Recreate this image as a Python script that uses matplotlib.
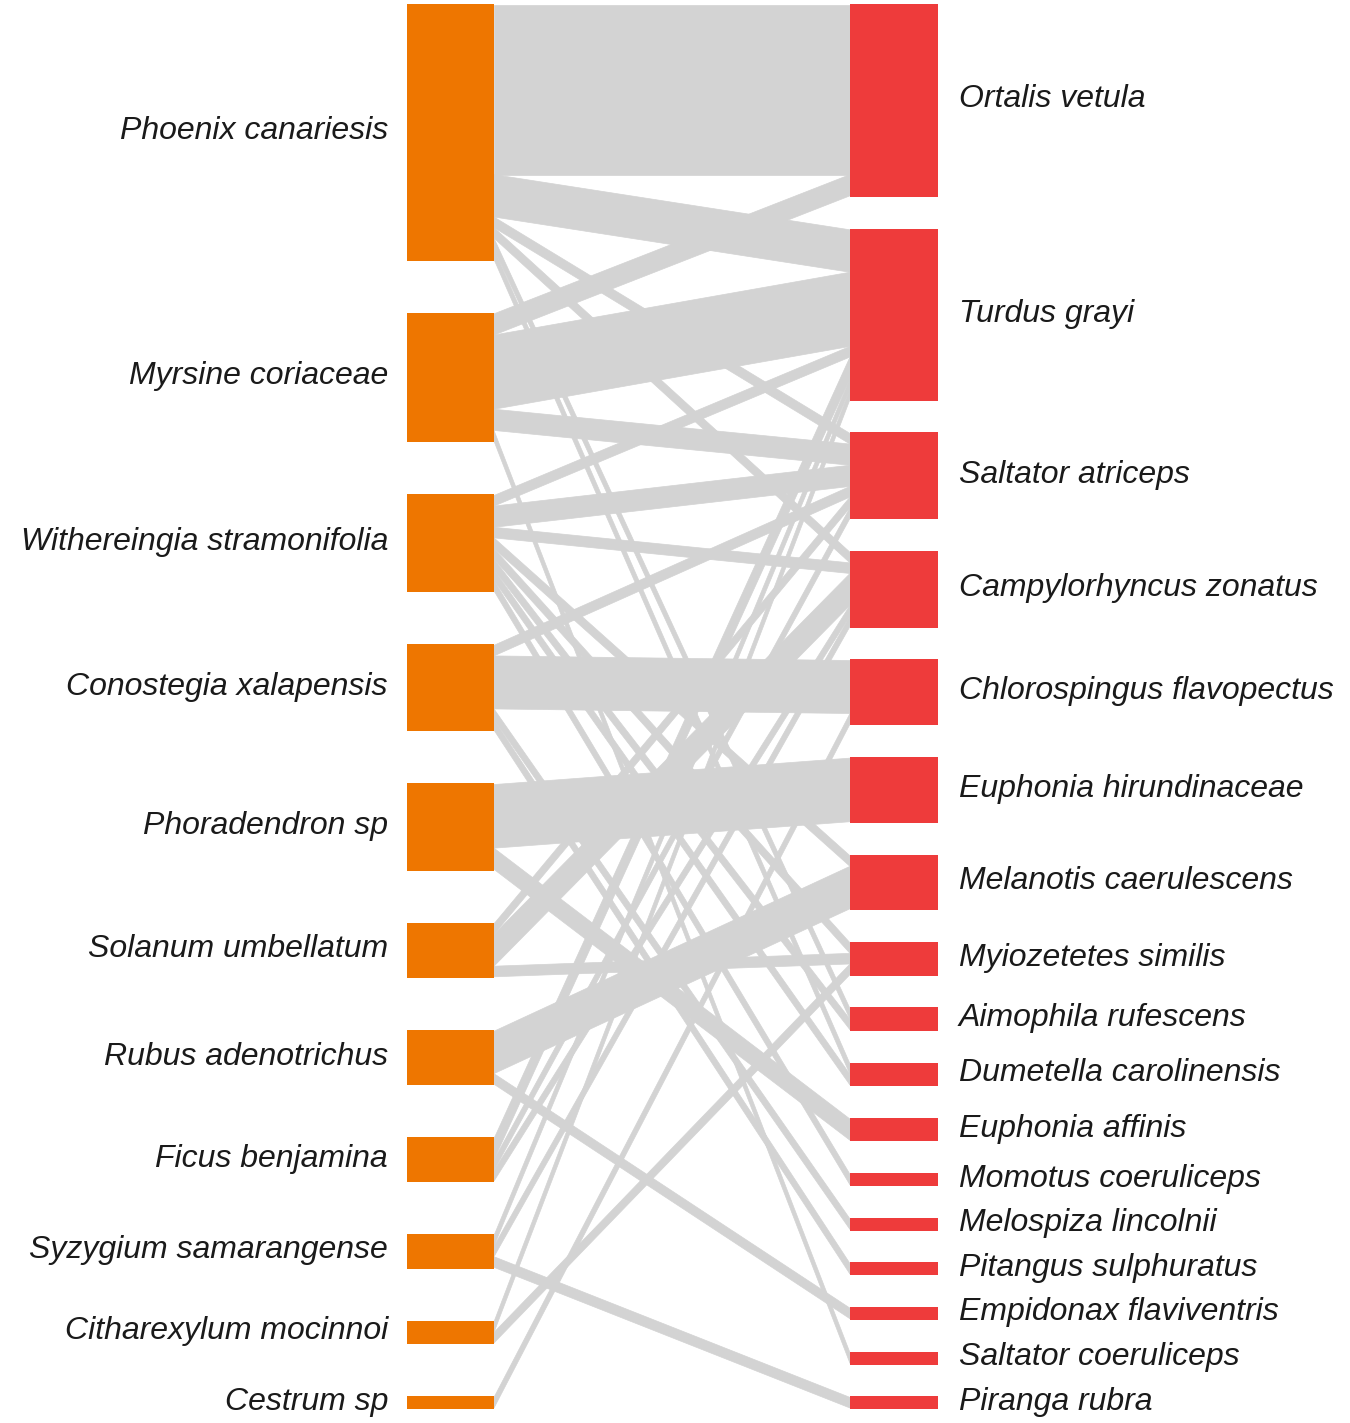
import numpy as np
import matplotlib.pyplot as plt
from matplotlib.patches import Polygon, Rectangle

plants = ['Phoenix canariesis', 'Myrsine coriaceae', 'Withereingia stramonifolia',
          'Conostegia xalapensis', 'Phoradendron sp', 'Solanum umbellatum',
          'Rubus adenotrichus', 'Ficus benjamina', 'Syzygium samarangense',
          'Citharexylum mocinnoi', 'Cestrum sp']
birds = ['Ortalis vetula', 'Turdus grayi', 'Saltator atriceps', 'Campylorhyncus zonatus',
         'Chlorospingus flavopectus', 'Euphonia hirundinaceae', 'Melanotis caerulescens',
         'Myiozetetes similis', 'Aimophila rufescens', 'Dumetella carolinensis',
         'Euphonia affinis', 'Momotus coeruliceps', 'Melospiza lincolnii',
         'Pitangus sulphuratus', 'Empidonax flaviventris', 'Saltator coeruliceps',
         'Piranga rubra']

# interacciones (filas = plantas, columnas = aves)
web = np.array([
    [16, 4, 1, 1, 0, 0, 0, 0, 1, 1, 0, 0, 0, 0, 0, 0, 0],
    [ 2, 7, 2, 0, 0, 0, 0, 0, 0, 0, 0, 0, 0, 0, 0, 1, 0],
    [ 0, 1, 2, 1, 0, 0, 1, 1, 1, 1, 0, 1, 0, 0, 0, 0, 0],
    [ 0, 0, 1, 0, 5, 0, 0, 0, 0, 0, 0, 0, 1, 1, 0, 0, 0],
    [ 0, 0, 0, 0, 0, 6, 0, 0, 0, 0, 2, 0, 0, 0, 0, 0, 0],
    [ 0, 0, 1, 3, 0, 0, 0, 1, 0, 0, 0, 0, 0, 0, 0, 0, 0],
    [ 0, 0, 0, 0, 0, 0, 4, 0, 0, 0, 0, 0, 0, 0, 1, 0, 0],
    [ 0, 2, 1, 1, 0, 0, 0, 0, 0, 0, 0, 0, 0, 0, 0, 0, 0],
    [ 0, 1, 0, 1, 0, 0, 0, 0, 0, 0, 0, 0, 0, 0, 0, 0, 1],
    [ 0, 1, 0, 0, 0, 0, 0, 1, 0, 0, 0, 0, 0, 0, 0, 0, 0],
    [ 0, 0, 0, 0, 1, 0, 0, 0, 0, 0, 0, 0, 0, 0, 0, 0, 0],
])

#=========Layout (pixeles)==================================
W, H = 1350, 1423
top, bottom = 5, 1408
xl0, xl1 = 407, 494          # columna plantas
xr0, xr1 = 850, 938          # columna aves
u = 10.6                     # pixeles por interaccion
pad = 1.2                    # borde extra de cada caja

def starts(totals):
    gap = (bottom - top - totals.sum()*u) / (len(totals) - 1)
    y = top + np.concatenate([[0], np.cumsum(totals[:-1]*u + gap)])
    return y

ptot = web.sum(axis=1)
btot = web.sum(axis=0)
py = starts(ptot)
by = starts(btot)

fig = plt.figure(figsize=(W/100, H/100), dpi=100)
ax = fig.add_axes([0, 0, 1, 1])
ax.set_xlim(0, W)
ax.set_ylim(H, 0)
ax.axis('off')

#=========Enlaces===========================================
for i in range(len(plants)):
    for j in range(len(birds)):
        n = web[i, j]
        if n == 0:
            continue
        yl = py[i] + web[i, :j].sum()*u      # orden por ave dentro de la planta
        yr = by[j] + web[:i, j].sum()*u      # orden por planta dentro del ave
        poly = Polygon([(xl1, yl), (xl1, yl + n*u), (xr0, yr + n*u), (xr0, yr)],
                       closed=True, facecolor='#d3d3d3', edgecolor='#d3d3d3', lw=0.5)
        ax.add_patch(poly)

#=========Cajas y nombres===================================
for i, name in enumerate(plants):
    ax.add_patch(Rectangle((xl0, py[i] - pad), xl1 - xl0, ptot[i]*u + 2*pad,
                           facecolor='#EE7600', edgecolor='none'))
    ax.text(388, py[i] + ptot[i]*u/2 - 1, name, ha='right', va='center', fontsize=23,
            style='italic', family='Liberation Sans', color='#1a1a1a')
for j, name in enumerate(birds):
    ax.add_patch(Rectangle((xr0, by[j] - pad), xr1 - xr0, btot[j]*u + 2*pad,
                           facecolor='#EE3B3B', edgecolor='none'))
    ax.text(959, by[j] + btot[j]*u/2 - 1, name, ha='left', va='center', fontsize=23,
            style='italic', family='Liberation Sans', color='#1a1a1a')

fig.savefig('out.png', dpi=100)
